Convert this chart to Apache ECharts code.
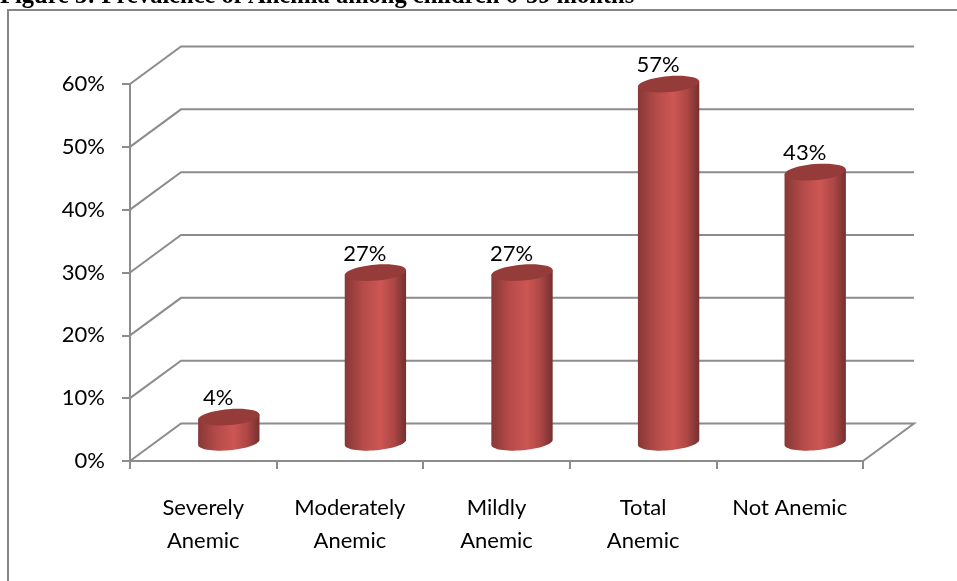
<!DOCTYPE html>
<html>
<head>
<meta charset="utf-8">
<style>
  html, body { margin: 0; padding: 0; background: #fff; }
  #chart { width: 957px; height: 581px; }
</style>
<script src="https://cdn.jsdelivr.net/npm/echarts@6/dist/echarts.min.js"></script>
</head>
<body>
<div id="chart"></div>
<script>
// Anemia prevalence among children, in percent
const categories = ['Severely\nAnemic', 'Moderately\nAnemic', 'Mildly\nAnemic', 'Total\nAnemic', 'Not Anemic'];
const values = [4, 27, 27, 57, 43];
const yTicks = [0, 10, 20, 30, 40, 50, 60];
const titleText = 'Figure 3: Prevalence of Anemia among children 6-59 months';

// Oblique projection of the 3D box, in pixels
const DEPTH_X = 51;
const DEPTH_Y = -37.5;
const TILT = -5 * Math.PI / 180;
const LINE = '#8c8c8c';
const FONT = 'Lato, "Open Sans", sans-serif';

function ellipsePoint(cx, cy, rx, ry, t) {
  const x = rx * Math.cos(t), y = ry * Math.sin(t);
  return [cx + x * Math.cos(TILT) - y * Math.sin(TILT),
          cy + x * Math.sin(TILT) + y * Math.cos(TILT)];
}

// One gridline per tick: diagonal on the side wall, then across the back wall
function renderWall(params, api) {
  const sys = params.coordSys;
  const y = api.coord([0, api.value(0)])[1];
  const left = sys.x, right = sys.x + sys.width;
  const pts = api.value(0) === 0
    ? [[left, y], [left + DEPTH_X, y + DEPTH_Y], [right + DEPTH_X, y + DEPTH_Y], [right, y]]
    : [[left, y], [left + DEPTH_X, y + DEPTH_Y], [right + DEPTH_X, y + DEPTH_Y]];
  return {
    type: 'polyline',
    shape: { points: pts },
    style: { stroke: LINE, lineWidth: 2, fill: null }
  };
}

// Cylinder standing halfway along the floor depth
function renderCylinder(params, api) {
  const idx = api.value(0);
  const val = api.value(1);
  const base = api.coord([idx, 0]);
  const top = api.coord([idx, val]);
  const rx = api.size([1, 0])[0] * 0.21;
  const ry = 8;
  const cx = base[0] + DEPTH_X / 2;
  const by = base[1] + DEPTH_Y / 2;
  const ty = top[1] + DEPTH_Y / 2;

  const body = [ellipsePoint(cx, ty, rx, ry, Math.PI)];
  body.push(ellipsePoint(cx, ty, rx, ry, 0));
  for (let i = 0; i <= 32; i++) {
    body.push(ellipsePoint(cx, by, rx, ry, Math.PI * i / 32));
  }
  return {
    type: 'group',
    children: [
      {
        type: 'polygon',
        shape: { points: body },
        style: {
          fill: {
            type: 'linear', x: 0, y: 0, x2: 1, y2: 0,
            colorStops: [
              { offset: 0, color: '#863836' },
              { offset: 0.3, color: '#b54b49' },
              { offset: 0.58, color: '#cd5653' },
              { offset: 0.8, color: '#ad4745' },
              { offset: 1, color: '#743030' }
            ]
          }
        }
      },
      {
        type: 'ellipse',
        shape: { cx: cx, cy: ty, rx: rx, ry: ry },
        rotation: -TILT,
        originX: cx,
        originY: ty,
        style: { fill: '#953b39' }
      },
      {
        type: 'text',
        style: {
          text: val + '%',
          x: cx - 10.5,
          y: ty - 19,
          align: 'center',
          verticalAlign: 'middle',
          font: '22px ' + FONT,
          fill: '#000'
        }
      }
    ]
  };
}

const chart = echarts.init(document.getElementById('chart'), null, { renderer: 'canvas' });
chart.setOption({
  animation: false,
  backgroundColor: '#fff',
  title: {
    text: titleText,
    left: 0,
    top: -16,
    padding: 0,
    textStyle: {
      fontFamily: '"Liberation Serif", serif',
      fontWeight: 'bold',
      fontSize: 24.5,
      color: '#000'
    }
  },
  graphic: [{
    type: 'polyline',
    silent: true,
    shape: { points: [[8, 581], [8, 10], [957, 10]] },
    style: { stroke: '#868686', lineWidth: 2, fill: null }
  }],
  grid: { left: 130, right: 94, top: 84, bottom: 120 },
  xAxis: {
    type: 'category',
    data: categories,
    boundaryGap: true,
    axisLine: { show: true, lineStyle: { color: LINE, width: 2 } },
    axisTick: { show: true, length: 8, alignWithLabel: false, lineStyle: { color: LINE, width: 2 } },
    axisLabel: { interval: 0, margin: 30, fontFamily: FONT, fontSize: 22, lineHeight: 33, color: '#000' }
  },
  yAxis: {
    type: 'value',
    min: 0,
    max: 60,
    interval: 10,
    axisLine: { show: true, lineStyle: { color: LINE, width: 2 } },
    axisTick: { show: true, length: 8, lineStyle: { color: LINE, width: 2 } },
    axisLabel: { margin: 25, fontFamily: FONT, fontSize: 22, color: '#000', formatter: '{value}%' },
    splitLine: { show: false }
  },
  series: [
    {
      type: 'custom',
      silent: true,
      z: 1,
      clip: false,
      renderItem: renderWall,
      encode: { y: 0 },
      data: yTicks.map(t => [t])
    },
    {
      type: 'custom',
      silent: true,
      z: 3,
      clip: false,
      renderItem: renderCylinder,
      encode: { x: 0, y: 1 },
      data: values.map((v, i) => [i, v])
    }
  ]
});
</script>
</body>
</html>
